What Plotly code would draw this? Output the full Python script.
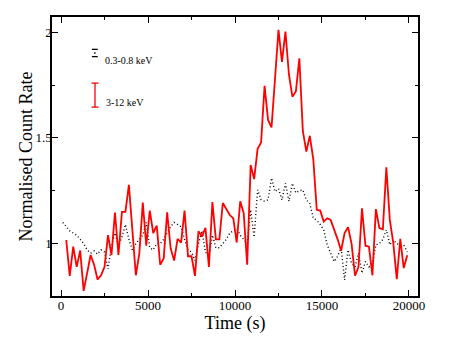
import plotly.graph_objects as go

# 3-12 keV light curve (red), 200 s bins
hard_time = [300, 500, 700, 900, 1100, 1300, 1500, 1700, 1900, 2100,
             2300, 2500, 2700, 2900, 3100, 3300, 3500, 3700, 3900, 4100,
             4300, 4500, 4700, 4900, 5100, 5300, 5500, 5700, 5900, 6100,
             6300, 6500, 6700, 6900, 7100, 7300, 7500, 7700, 7900, 8100,
             8300, 8500, 8700, 8900, 9100, 9300, 9500, 9700, 9900, 10100,
             10300, 10500, 10700, 10900, 11100, 11300, 11500, 11700, 11900, 12100,
             12300, 12500, 12700, 12900, 13100, 13300, 13500, 13700, 13900, 14100,
             14300, 14500, 14700, 14900, 15100, 15300, 15500, 15700, 15900, 16100,
             16300, 16500, 16700, 16900, 17100, 17300, 17500, 17700, 17900, 18100,
             18300, 18500, 18700, 18900, 19100, 19300, 19500, 19700, 19900]
hard_rate = [1.017, 0.847, 0.986, 0.89, 0.967, 0.776, 0.86, 0.946, 0.9, 0.83,
             0.85, 0.89, 1.04, 0.946, 1.147, 0.946, 1.15, 1.15, 1.278, 1.05,
             0.85, 0.954, 1.194, 0.99, 1.156, 1.05, 1.085, 0.9, 0.93, 1.148,
             0.978, 0.92, 1.022, 1.005, 1.156, 0.94, 0.94, 0.847, 1.058, 1.033,
             1.074, 0.89, 1.196, 1.02, 1.02, 1.192, 1.165, 1.135, 1.12, 1.005,
             1.2, 1.144, 0.9, 1.372, 1.305, 1.448, 1.478, 1.746, 1.585, 1.55,
             1.78, 2.011, 1.86, 2.003, 1.8, 1.695, 1.72, 1.877, 1.533, 1.435,
             1.51, 1.4, 1.16, 1.156, 1.104, 1.12, 1.112, 1.07, 1.02, 0.966,
             1.05, 1.077, 1.0, 0.848, 0.89, 1.167, 0.99, 0.985, 0.85, 1.163,
             1.073, 1.068, 1.361, 1.112, 1.002, 0.832, 1.022, 0.884, 0.945]

# 0.3-0.8 keV light curve (black dotted)
soft_time = [100, 300, 500, 700, 900, 1100, 1300, 1500, 1700, 1900,
             2100, 2300, 2500, 2700, 2900, 3100, 3300, 3500, 3700, 3900,
             4100, 4300, 4500, 4700, 4900, 5100, 5300, 5500, 5700, 5900,
             6100, 6300, 6500, 6700, 6900, 7100, 7300, 7500, 7700, 7900,
             8100, 8300, 8500, 8700, 8900, 9100, 9300, 9500, 9700, 9900,
             10100, 10300, 10500, 10700, 10900, 11100, 11300, 11500, 11700, 11900,
             12100, 12300, 12500, 12700, 12900, 13100, 13300, 13500, 13700, 13900,
             14100, 14300, 14500, 14700, 14900, 15100, 15300, 15500, 15700, 15900,
             16100, 16300, 16500, 16700, 16900, 17100, 17300, 17500, 17700, 17900,
             18100, 18300, 18500, 18700, 18900, 19100, 19300, 19500, 19700, 19900]
soft_rate = [1.10, 1.08, 1.06, 1.05, 1.04, 1.02, 1.0, 0.97, 0.955, 0.965,
             0.95, 0.97, 0.96, 0.88, 0.99, 1.05, 0.99, 1.03, 1.09, 1.02,
             0.97, 1.0, 1.02, 1.04, 1.1, 0.98, 0.97, 1.0, 1.0, 1.02,
             1.05, 1.08, 1.1, 1.09, 1.08, 1.02, 0.97, 0.96, 0.92, 1.0,
             1.06, 0.96, 0.94, 1.04, 0.98, 0.98, 1.0, 1.02, 1.05, 1.06,
             1.07, 1.04, 1.02, 1.0, 1.16, 1.03, 1.254, 1.207, 1.2, 1.207,
             1.31, 1.246, 1.26, 1.207, 1.285, 1.2, 1.285, 1.24, 1.25, 1.254,
             1.207, 1.19, 1.12, 1.11, 1.09, 1.065, 0.994, 0.954, 0.915, 0.94,
             0.978, 0.828, 0.97, 0.907, 0.89, 0.954, 0.86, 0.915, 0.89, 0.907,
             0.994, 1.0, 1.02, 1.065, 0.994, 1.017, 1.0, 0.994, 0.994, 0.96]

x_ticks = [0, 5000, 10000, 15000, 20000]
y_ticks = [1, 1.5, 2]

FONT = "Liberation Serif, Times New Roman, serif"
RED = "#ff0000"

fig = go.Figure()
fig.add_trace(go.Scatter(x=soft_time, y=soft_rate, mode="lines", name="0.3-0.8 keV",
                         line=dict(color="black", width=1.4, dash="1px,2.5px")))
fig.add_trace(go.Scatter(x=hard_time, y=hard_rate, mode="lines", name="3-12 keV",
                         line=dict(color=RED, width=1.8)))

# legend drawn by hand: small error-bar glyphs + labels
fig.add_annotation(x=0.145, y=0.871, xref="paper", yref="paper", text="0.3-0.8 keV",
                   showarrow=False, xanchor="left", xshift=-2,
                   font=dict(family=FONT, size=10, color="black"))
fig.add_annotation(x=0.148, y=0.72, xref="paper", yref="paper", text="3-12 keV",
                   showarrow=False, xanchor="left", xshift=-2,
                   font=dict(family=FONT, size=10, color="black"))
for sh in [dict(x0=0.109, x1=0.125, y0=0.884, y1=0.884),
           dict(x0=0.109, x1=0.125, y0=0.858, y1=0.858),
           dict(x0=0.115, x1=0.119, y0=0.871, y1=0.871)]:
    fig.add_shape(type="line", xref="paper", yref="paper", line=dict(color="black", width=1.3), **sh)
for sh in [dict(x0=0.1175, x1=0.1175, y0=0.677, y1=0.763),
           dict(x0=0.108, x1=0.127, y0=0.763, y1=0.763),
           dict(x0=0.108, x1=0.127, y0=0.677, y1=0.677)]:
    fig.add_shape(type="line", xref="paper", yref="paper", line=dict(color=RED, width=1.3), **sh)

# y title as an annotation so it can sit a little closer to the axis
fig.add_annotation(x=0, y=0.5, xref="paper", yref="paper", text="Normalised Count Rate",
                   textangle=-90, showarrow=False, xanchor="center", yanchor="middle", xshift=-27,
                   font=dict(family=FONT, size=18, color="black"))

axis_common = dict(showline=True, linecolor="black", linewidth=1.5, mirror="allticks",
                   ticks="inside", ticklen=6, tickwidth=1, tickcolor="black",
                   showgrid=False, zeroline=False, automargin=False,
                   tickfont=dict(family=FONT, size=13, color="black"))
fig.update_xaxes(range=[-520, 20520], tickvals=x_ticks, ticktext=[str(v) for v in x_ticks],
                 ticklabelstandoff=-3,
                 minor=dict(ticks="inside", ticklen=3, tickcolor="black", dtick=2500, tick0=0, showgrid=False),
                 title=dict(text="Time (s)", font=dict(family=FONT, size=18, color="black"), standoff=0),
                 **axis_common)
fig.update_yaxes(range=[0.752, 2.072], tickvals=y_ticks, ticktext=["1", "1.5", "2"],
                 ticklabelstandoff=-4,
                 minor=dict(ticks="inside", ticklen=3, tickcolor="black", dtick=0.25, tick0=0, showgrid=False),
                 **axis_common)
# page body adds an 8 px margin, so the figure is shifted and shrunk by that much
fig.update_layout(width=443, height=341, showlegend=False, template="plotly_white",
                  paper_bgcolor="white", plot_bgcolor="white",
                  margin=dict(l=44, r=33, t=9, b=53))
fig.write_html("out.html")
